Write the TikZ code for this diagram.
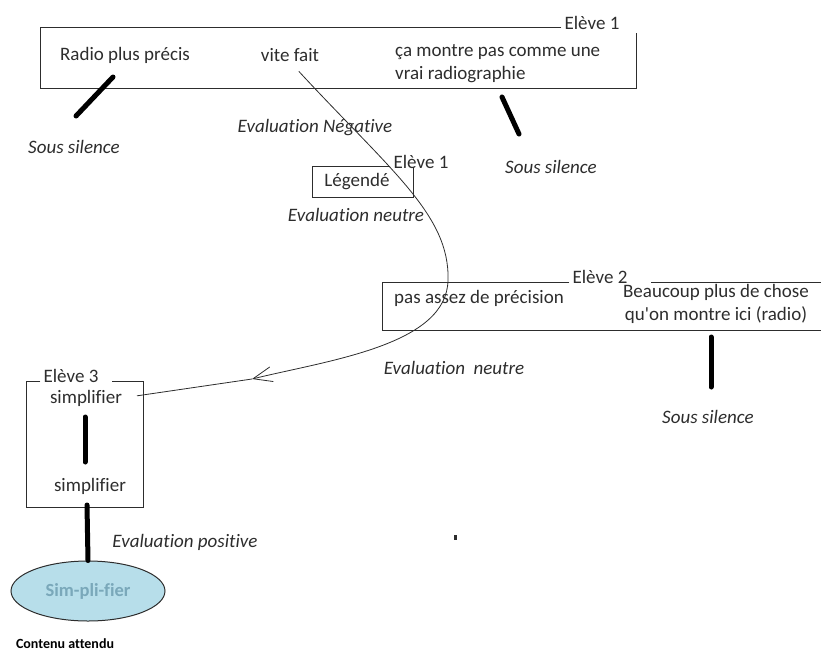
\documentclass[tikz,border=0pt]{standalone}
\usepackage{fontspec}
\setmainfont{Carlito}[Ligatures=CommonOff]
\usetikzlibrary{shapes.geometric, arrows.meta, positioning, calc}
\usepackage{xcolor}

\definecolor{encre}{RGB}{45,45,45}
\definecolor{bleuclair}{RGB}{183,222,234}
\definecolor{bleutexte}{RGB}{122,168,186}

\begin{document}
\begin{tikzpicture}[x=1pt, y=-1pt,
  every node/.style={font=\fontsize{19}{23}\selectfont, text=encre, inner sep=0pt},
  zone/.style={rectangle, draw=none, inner sep=0pt},
  cadre/.style={draw=encre, line width=1.1pt},
  eleve/.style={inner sep=3pt},
  avis/.style={font=\fontsize{19}{23}\selectfont\itshape},
  trait/.style={line width=5pt, line cap=round},
  lien/.style={draw=encre, line width=0.8pt}
]
\useasboundingbox (0,0) rectangle (821,653);

% Eleve 1
\node[zone, minimum width=595, minimum height=60] (b1) at (338.5,58) {};
\node[eleve] (tag1) at (592,23) {Elève 1};
\draw[cadre] (tag1.west |- b1.north) -| (b1.south west) -| ([yshift=-5pt]b1.north east);
\node (radio) at (125,55) {Radio plus précis};
\node (vite) at (290,55) {vite fait};
\node[align=left, anchor=west] (montre) at (395,64) {ça montre pas comme une\\vrai radiographie};

\node[avis] (silence1) at (74,147) {Sous silence};
\node[avis] (negative) at (315,128) {Evaluation Négative};
\node[avis] (silence2) at (551,167) {Sous silence};
\coordinate (t1a) at (113,77);
\coordinate (t1b) at (76,116);
\coordinate (t2a) at (502,97);
\coordinate (t2b) at (519,134);
\draw[trait] (t1a) -- (t1b);
\draw[trait] (t2a) -- (t2b);

% Legende
\node[zone, minimum width=100, minimum height=30] (b4) at (363,182) {};
\node[eleve] (tag4) at (421,162) {Elève 1};
\draw[cadre] (tag4.west |- b4.north) -| (b4.south west) -| (b4.north east);
\node (legende) at (357,182) {Légendé};
\node[avis] (neutre1) at (356,215) {Evaluation neutre};

% Eleve 2
\node[zone, minimum width=445, minimum height=47] (b2) at (605.5,306.5) {};
\node[eleve] (tag2) at (600,277) {Elève 2};
\draw[cadre] (tag2.west |- b2.north) -| (b2.south west) -| (b2.north east) -- ([xshift=20pt]tag2.east |- b2.north);
\node (precision) at (479,298) {pas assez de précision};
\node[align=center] (beaucoup) at (716,304) {Beaucoup plus de chose\\qu\textquotesingle on montre ici (radio)};
\node[avis] (neutre2) at (454,368) {Evaluation\ \ neutre};
\node[avis] (silence3) at (708,417) {Sous silence};
\coordinate (t3a) at (711,337);
\coordinate (t3b) at (711,387);
\draw[trait] (t3a) -- (t3b);

% Eleve 3
\node[zone, minimum width=116, minimum height=125] (b3) at (85,444.5) {};
\node[eleve] (tag3) at (71,376) {Elève 3};
\draw[cadre] (tag3.west |- b3.north) -| (b3.south west) -| (b3.north east) -- ([xshift=10pt]tag3.east |- b3.north);
\node (simp1) at (86,398) {simplifier};
\node (simp2) at (90,486) {simplifier};
\coordinate (t4a) at (85,417);
\coordinate (t4b) at (85,462);
\draw[trait] (t4a) -- (t4b);

% contenu attendu
\node[ellipse, draw=encre, line width=1pt, fill=bleuclair, minimum width=154, minimum height=60,
  font=\fontsize{18.5}{22}\selectfont\bfseries, text=bleutexte] (attendu) at (88,591) {Sim-pli-fier};
\node[font=\fontsize{14}{17}\selectfont\bfseries, text=black] (contenu) at (65,644) {Contenu attendu};
\node[avis] (positive) at (185,542) {Evaluation positive};
\coordinate (t5a) at (87,505);
\draw[trait] (t5a) -- (attendu.north);

% fleche
\coordinate (pointe) at (252,379);
\draw[lien, -{Straight Barb[length=19pt, width=15pt]}, shorten <=13pt] (vite.south)
  .. controls (390,170) and (450,215) .. (448,280)
  .. controls (447,345) and (330,360) .. (pointe);
\draw[lien, shorten >=15pt] (pointe) -- (simp1.east);

\fill[encre] (454,535) rectangle (457,540);
\end{tikzpicture}
\end{document}
